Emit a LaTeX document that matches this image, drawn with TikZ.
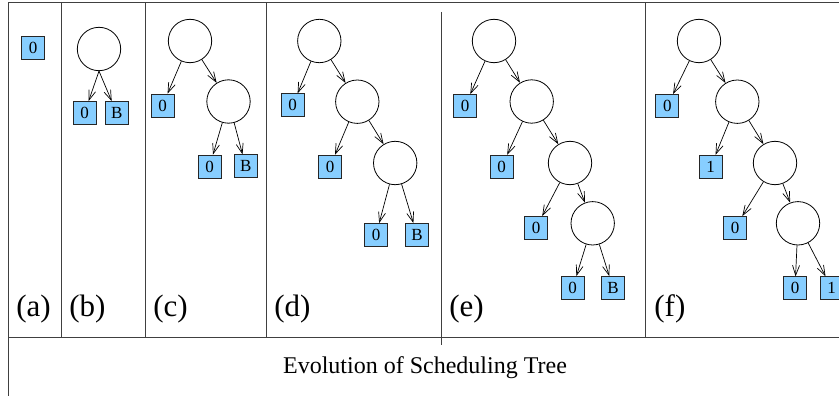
\documentclass[tikz,border=0pt]{standalone}
\usepackage{fontspec}
\setmainfont{Liberation Serif}
\usetikzlibrary{arrows.meta}
\definecolor{ltblue}{RGB}{135,206,255}
\tikzset{
  leaf/.style={draw=black!85, fill=ltblue, minimum size=23pt, inner sep=0pt,
    font=\fontsize{17}{17}\selectfont},
  knot/.style={draw, circle, minimum size=43.4pt, inner sep=0pt},
  link/.style={-{Straight Barb[length=10pt,width=7pt]}, line width=0.7pt},
  wall/.style={draw=black!75, line width=1pt},
  tag/.style={inner sep=0pt, anchor=base west, font=\fontsize{31}{31}\selectfont}
}
\begin{document}
\begin{tikzpicture}[x=1pt,y=-1pt,line width=0.8pt]
\useasboundingbox (0,0) rectangle (839,396);
% frame
\draw[wall] (839,3) -- (8,3) -- (8,396);
\draw[wall] (8,337) -- (839,337);
\foreach \xs in {61,145,266,645} \draw[wall] (\xs,3) -- (\xs,337);
\draw[wall] (441,12) -- (441,345);
\node[tag] (la) at (16,316) {(a)};
\node[tag] (lb) at (69,316) {(b)};
\node[tag] (lc) at (153,316) {(c)};
\node[tag] (ld) at (274,316) {(d)};
\node[tag] (le) at (449,316) {(e)};
\node[tag] (lf) at (654,316) {(f)};
\node[inner sep=0pt, anchor=base, font=\fontsize{24}{24}\selectfont] (title) at (425,373)
  {Evolution of Scheduling Tree};
% (a)
\node[leaf] (a0) at (33,48) {0};
% (b)
\node[knot] (b1) at (99,49) {};
\node[leaf] (b1l) at (84.5,113) {0};
\node[leaf] (b1r) at (116.7,113) {B};
\draw[link] (b1.south) -- (b1l);
\draw[link] (b1.south) -- (b1r);
% (c)
\node[knot] (c1) at (190,41) {};
\node[leaf] (c1l) at (162.5,105.5) {0};
\node[knot] (c2) at (228.5,101.5) {};
\node[leaf] (c2l) at (209.5,166.5) {0};
\node[leaf] (c2r) at (245.7,166.3) {B};
\draw[link] (c1) -- (c1l);
\draw[link] (c1) -- (c2);
\draw[link] (c2) -- (c2l);
\draw[link] (c2) -- (c2r);
% (d)
\node[knot] (d1) at (319.3,41) {};
\node[leaf] (d1l) at (292.7,105.3) {0};
\node[knot] (d2) at (357.3,101.7) {};
\node[leaf] (d2l) at (330,166.7) {0};
\node[knot] (d3) at (395.2,163) {};
\node[leaf] (d3l) at (376,235) {0};
\node[leaf] (d3r) at (417,235) {B};
\draw[link] (d1) -- (d1l);
\draw[link] (d1) -- (d2);
\draw[link] (d2) -- (d2l);
\draw[link] (d2) -- (d3);
\draw[link] (d3) -- (d3l);
\draw[link] (d3) -- (d3r);
% (e)
\node[knot] (e1) at (494,41) {};
\node[leaf] (e1l) at (465,106) {0};
\node[knot] (e2) at (531.7,101.5) {};
\node[leaf] (e2l) at (501.7,166.7) {0};
\node[knot] (e3) at (570,163) {};
\node[leaf] (e3l) at (536,228) {0};
\node[knot] (e4) at (592.7,223.3) {};
\node[leaf] (e4l) at (572.7,288) {0};
\node[leaf] (e4r) at (613,288) {B};
\draw[link] (e1) -- (e1l);
\draw[link] (e1) -- (e2);
\draw[link] (e2) -- (e2l);
\draw[link] (e2) -- (e3);
\draw[link] (e3) -- (e3l);
\draw[link] (e3) -- (e4);
\draw[link] (e4) -- (e4l);
\draw[link] (e4) -- (e4r);
% (f)
\node[knot] (f1) at (699,41) {};
\node[leaf] (f1l) at (667.3,106) {0};
\node[knot] (f2) at (737.3,101.7) {};
\node[leaf] (f2l) at (710.7,166.7) {1};
\node[knot] (f3) at (775,163) {};
\node[leaf] (f3l) at (735,228) {0};
\node[knot] (f4) at (798,223.3) {};
\node[leaf] (f4l) at (795,288.3) {0};
\node[leaf] (f4r) at (831.7,288.3) {1};
\draw[link] (f1) -- (f1l);
\draw[link] (f1) -- (f2);
\draw[link] (f2) -- (f2l);
\draw[link] (f2) -- (f3);
\draw[link] (f3) -- (f3l);
\draw[link] (f3) -- (f4);
\draw[link] (f4) -- (f4l);
\draw[link] (f4) -- (f4r);
\end{tikzpicture}
\end{document}
